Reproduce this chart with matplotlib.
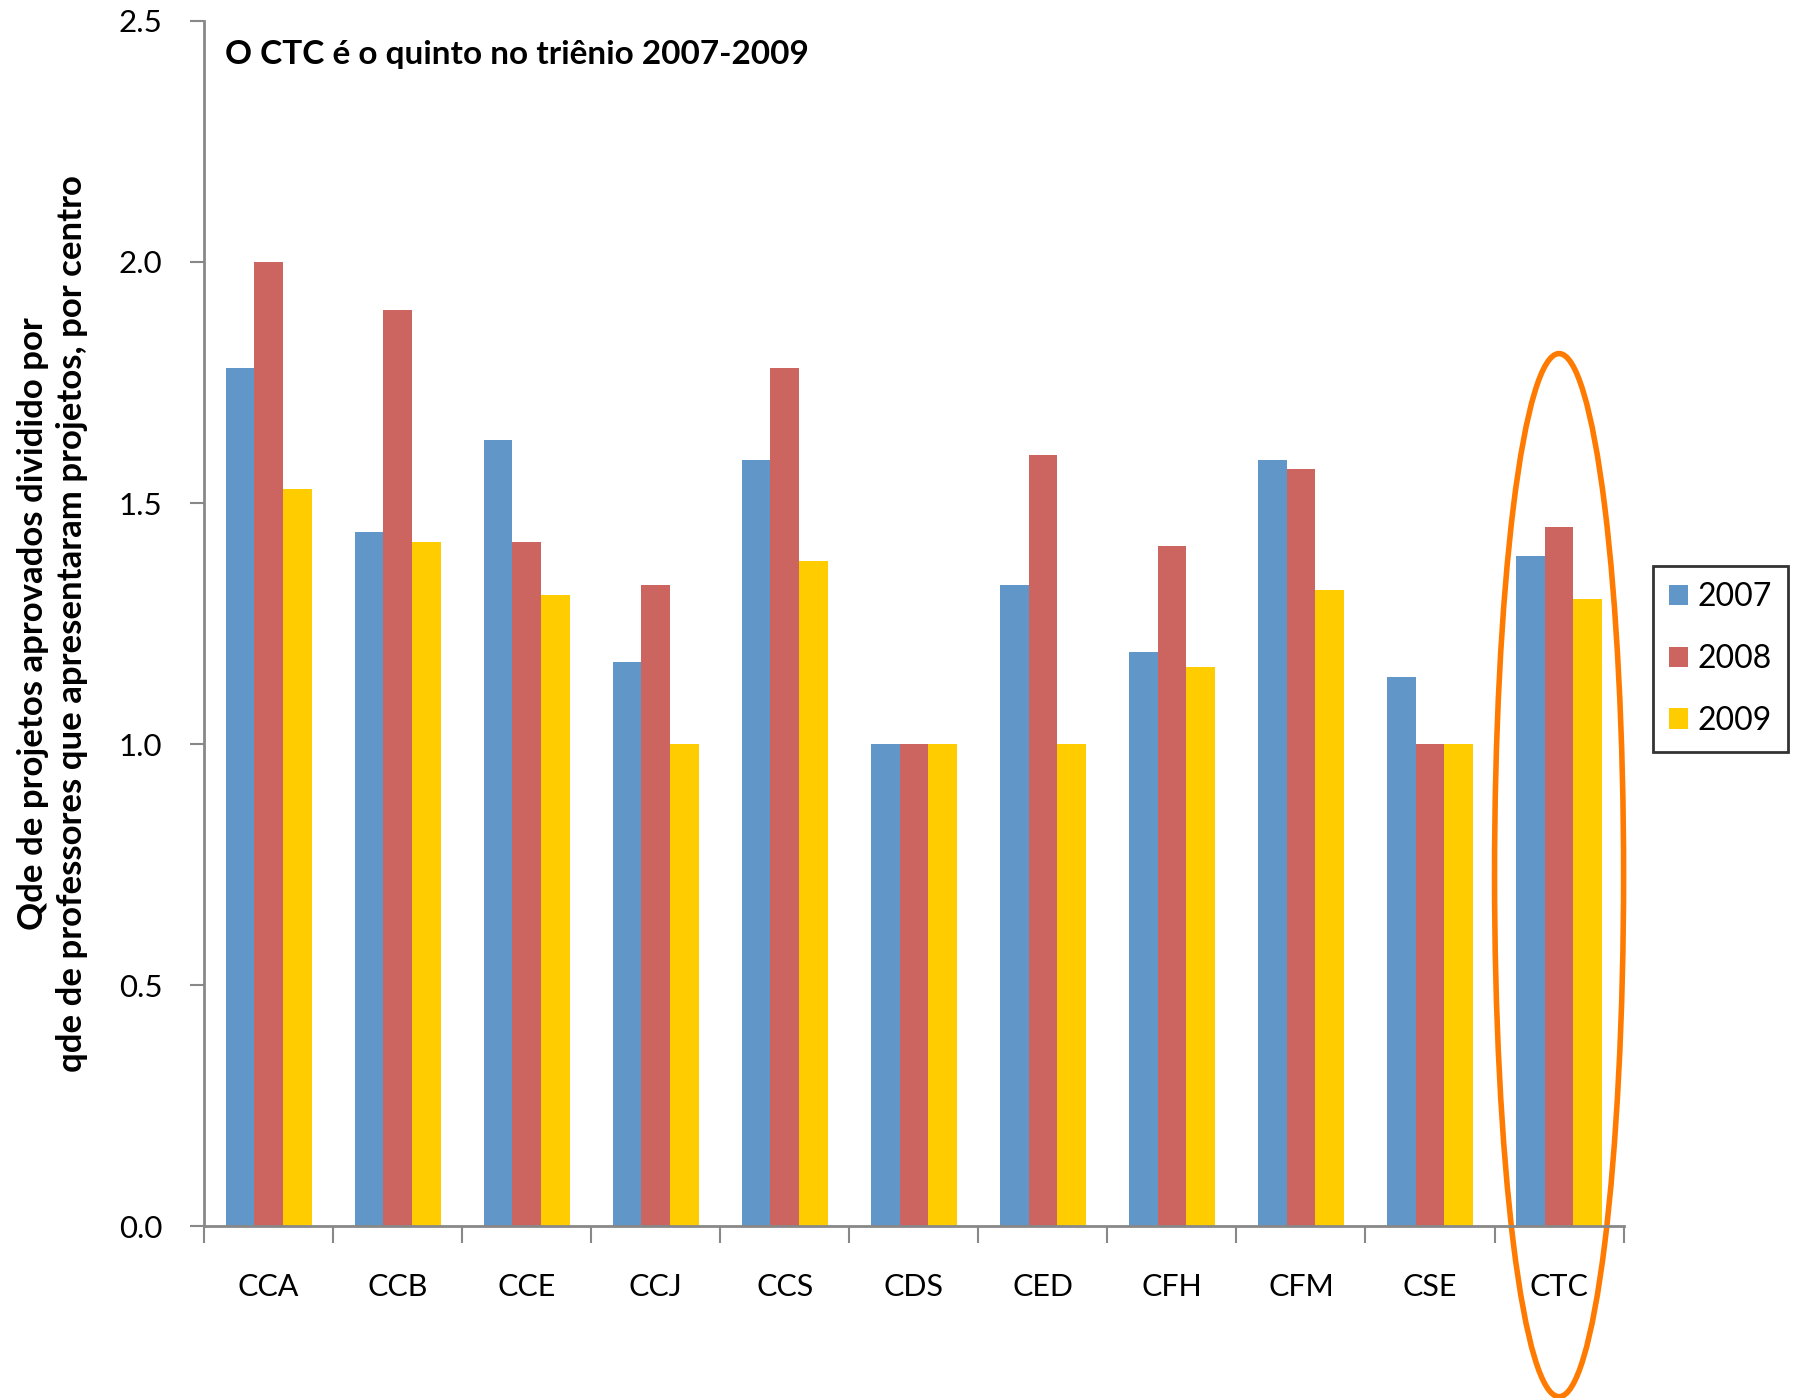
import numpy as np
import matplotlib.pyplot as plt
from matplotlib.patches import Ellipse

centros = ["CCA", "CCB", "CCE", "CCJ", "CCS", "CDS", "CED", "CFH", "CFM", "CSE", "CTC"]
v2007 = [1.78, 1.44, 1.63, 1.17, 1.59, 1.00, 1.33, 1.19, 1.59, 1.14, 1.39]
v2008 = [2.00, 1.90, 1.42, 1.33, 1.78, 1.00, 1.60, 1.41, 1.57, 1.00, 1.45]
v2009 = [1.53, 1.42, 1.31, 1.00, 1.38, 1.00, 1.00, 1.16, 1.32, 1.00, 1.30]
anos = ["2007", "2008", "2009"]
cores = ["#6096C8", "#CC6560", "#FFCC00"]

plt.rcParams['font.family'] = ['Lato', 'DejaVu Sans']

fig = plt.figure(figsize=(17.98, 13.98), dpi=100)
ax = fig.add_axes([0.1135, 0.123, 0.7895, 0.862])

x = np.arange(len(centros))
w = 0.222
for i, (vals, c, lab) in enumerate(zip([v2007, v2008, v2009], cores, anos)):
    ax.bar(x + (i - 1) * w, vals, width=w, color=c, label=lab)

ax.set_xlim(-0.5, len(centros) - 0.5)
ax.set_ylim(0, 2.5)
ax.set_yticks(np.arange(0, 2.51, 0.5))
ax.set_yticklabels([f"{v:.1f}" for v in np.arange(0, 2.51, 0.5)], fontsize=22.5)

# category labels between boundary ticks
ax.set_xticks(np.arange(-0.5, len(centros)), minor=False)
ax.set_xticklabels([])
ax.set_xticks(x, minor=True)
ax.set_xticklabels(centros, minor=True, fontsize=22)
ax.tick_params(axis='x', which='minor', length=0, pad=34)
ax.tick_params(axis='x', which='major', length=12, width=1.5, color="#888888", direction='out')
ax.tick_params(axis='y', length=10, width=1.5, color="#888888", direction='out', pad=20)

for s in ["top", "right"]:
    ax.spines[s].set_visible(False)
for s in ["left", "bottom"]:
    ax.spines[s].set_color("#888888")
    ax.spines[s].set_linewidth(2)

ax.text(0.015, 0.972, "O CTC é o quinto no triênio 2007-2009", transform=ax.transAxes,
        fontsize=24, fontweight='bold', va='center', ha='left')

ax.set_ylabel("Qde de projetos aprovados dividido por\nqde de professores que apresentaram projetos, por centro",
              fontsize=25, fontweight='bold', labelpad=22, linespacing=1.25)

ell = Ellipse((10, 0.728), width=1.0, height=2.164, fill=False, edgecolor="#FF7A00",
              linewidth=4, clip_on=False)
ax.add_patch(ell)

leg = ax.legend(loc='center left', bbox_to_anchor=(1.0208, 0.4706), fontsize=23, frameon=True,
                fancybox=False, edgecolor='black', handlelength=0.6, handleheight=0.6,
                labelspacing=1.0, handletextpad=0.3, borderpad=0.5, borderaxespad=0)
leg.get_frame().set_linewidth(2)

fig.savefig("out.png", dpi=100)
